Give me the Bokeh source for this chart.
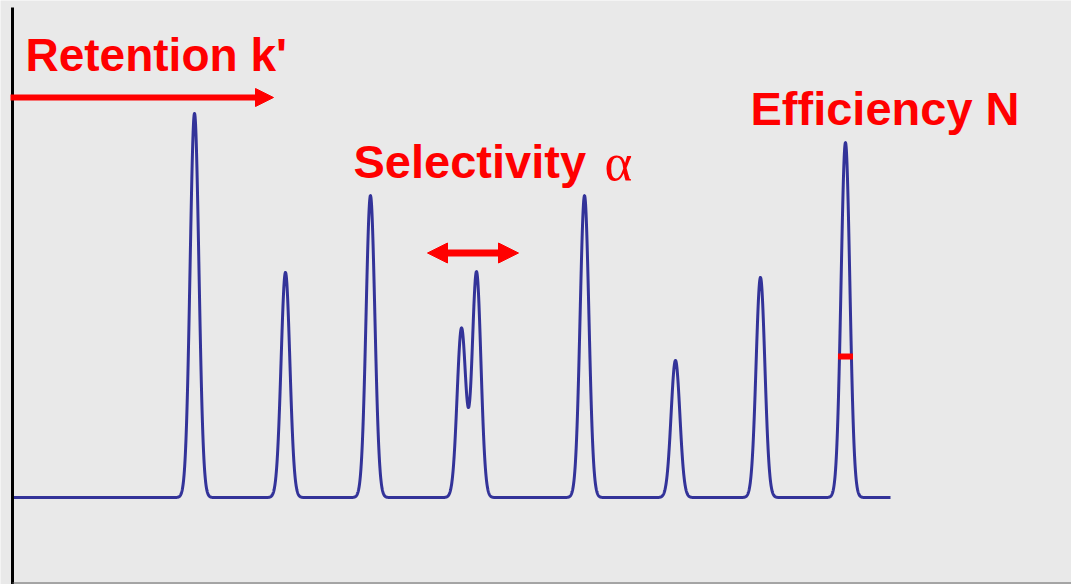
import numpy as np
from bokeh.plotting import figure
from bokeh.models import Range1d, Label, Arrow, NormalHead
from bokeh.embed import file_html
from bokeh.resources import INLINE

# ---- data ----
peak_names = ["P1", "P2", "P3", "P4a", "P4b", "P5", "P6", "P7", "P8"]
peak_times = [2.073, 3.109, 4.077, 5.114, 5.285, 6.515, 7.551, 8.519, 9.487]   # min
peak_heights = [100.0, 58.6, 78.6, 44.0, 58.7, 78.6, 35.7, 57.3, 92.4]         # a.u.
peak_sigmas = [0.050, 0.050, 0.050, 0.050, 0.050, 0.050, 0.050, 0.050, 0.050]  # min
run_start = 0.0
run_end = 10.0
annotation_texts = ["Retention k'", "Selectivity", "α", "Efficiency N"]

# ---- chromatogram trace built from the peak table ----
t = np.linspace(run_start, run_end, 4001)
signal = np.zeros_like(t)
for c, h, s in zip(peak_times, peak_heights, peak_sigmas):
    signal += h * np.exp(-0.5 * ((t - c) / s) ** 2)

PXX = 87.8   # px per minute
PXY = 3.84   # px per unit
W, H = 1071, 584
X0, Y0 = 12, 497   # pixel position of t=0 / signal=0
BG = "#e9e9e9"
RED = "#ff0000"

def tx(px):
    return (px - X0) / PXX

def ty(py):
    return (Y0 - py) / PXY

p = figure(width=W, height=H, output_backend="svg", toolbar_location=None,
           x_range=Range1d(tx(0), tx(W)),
           y_range=Range1d(ty(H), ty(0)),
           x_axis_location=None, y_axis_location=None,
           min_border=0, background_fill_color=BG, border_fill_color=BG,
           outline_line_color=None)
p.grid.visible = False

p.line(t, signal, line_color="#333399", line_width=3, line_join="round")

# axis lines
p.segment(x0=[run_start], y0=[ty(H)], x1=[run_start], y1=[ty(7)],
          line_color="black", line_width=3)
p.segment(x0=[run_start], y0=[ty(582.5)], x1=[tx(W)], y1=[ty(582.5)],
          line_color="#606060", line_width=1)

# Retention arrow
p.add_layout(Arrow(end=NormalHead(size=18, fill_color=RED, line_color=RED, line_width=1),
                   x_start=tx(10), y_start=ty(97), x_end=tx(273), y_end=ty(97),
                   line_color=RED, line_width=6))
# Selectivity double arrow
p.add_layout(Arrow(start=NormalHead(size=20, fill_color=RED, line_color=RED, line_width=1),
                   end=NormalHead(size=20, fill_color=RED, line_color=RED, line_width=1),
                   x_start=tx(427), y_start=ty(252.5), x_end=tx(518), y_end=ty(252.5),
                   line_color=RED, line_width=7))
# Efficiency width mark on last peak
cN = peak_times[-1]
p.segment(x0=[cN - 7.5 / PXX], y0=[ty(356)], x1=[cN + 7.5 / PXX], y1=[ty(356)],
          line_color=RED, line_width=6)

TEXT_SHIFT = 19  # label baseline correction in px

def lab(x_px, base_px, text, font="Liberation Sans", style="bold", size="47px"):
    p.add_layout(Label(x=tx(x_px), y=ty(base_px - TEXT_SHIFT), text=text,
                       text_font=font, text_font_style=style, text_font_size=size,
                       text_color=RED, text_baseline="alphabetic", text_align="left"))

lab(25, 73, annotation_texts[0], size="46px")
lab(353, 180, annotation_texts[1])
lab(604, 180, annotation_texts[2], font="Liberation Serif", style="normal", size="53px")
lab(750, 127, annotation_texts[3])

open("out.html", "w").write(file_html(p, INLINE))
